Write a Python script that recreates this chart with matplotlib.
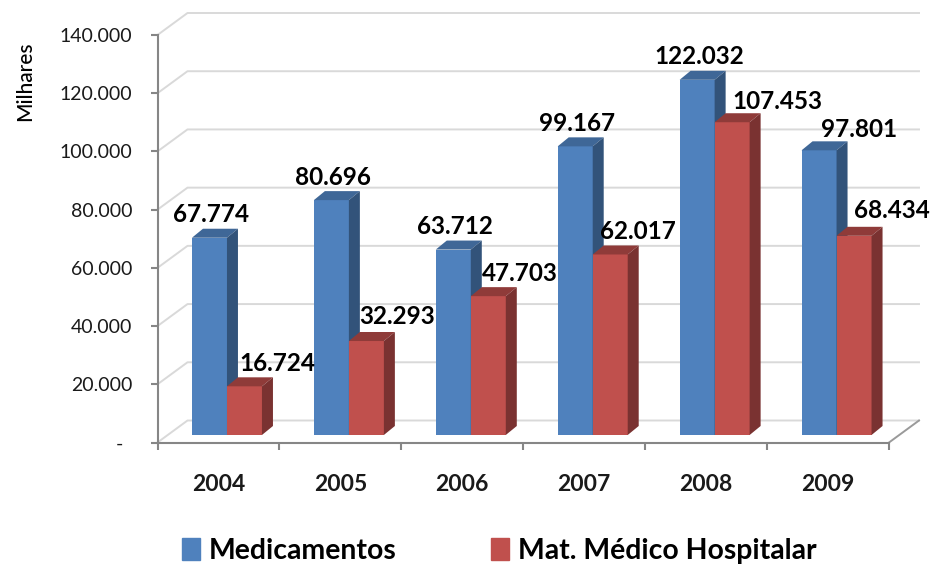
import matplotlib
matplotlib.use("Agg")
import matplotlib.pyplot as plt
from matplotlib.patches import Patch
from matplotlib.transforms import ScaledTranslation
import numpy as np

plt.rcParams['font.family'] = ['Lato', 'DejaVu Sans']

anos = ['2004', '2005', '2006', '2007', '2008', '2009']
medicamentos = [67.774, 80.696, 63.712, 99.167, 122.032, 97.801]
mat_medico = [16.724, 32.293, 47.703, 62.017, 107.453, 68.434]
y_ticks = [0, 20, 40, 60, 80, 100, 120, 140]
y_labels = ['-', '20.000', '40.000', '60.000', '80.000', '100.000', '120.000', '140.000']

# label offsets in pixels from the top centre of each bar
off_med = [(2, 23), (2, 23), (2, 23), (2, 23), (2, 23), (40, 21)]
off_mat = [(33, 23), (31, 25), (32, 23), (28, 23), (45, 21), (38, 25)]

azul, azul_topo, azul_lado = '#4f81bd', '#3f6797', '#32537a'
verm, verm_topo, verm_lado = '#c0504d', '#8f3b39', '#7a3231'

W, H = 932, 566
fig = plt.figure(figsize=(W / 100, H / 100), dpi=100)
ax = fig.add_axes([157.5 / W, (H - 442.5) / H, 731.5 / W, 407.5 / H])
ax.set_xlim(0, 6)
ax.set_ylim(0, 140)

px_x = 6 / 731.5
px_y = 140 / 407.5

# back wall and gridlines
wall_dx, wall_dy = 30 * px_x, 22 * px_y
for v in y_ticks:
    ax.plot([0, wall_dx, 6 + wall_dx], [v, v + wall_dy, v + wall_dy], color='#d9d9d9',
            lw=1.4, clip_on=False, zorder=1)
ax.plot([6, 6 + wall_dx], [0, wall_dy], color='#9a9a9a', lw=1.4, clip_on=False, zorder=1)

# bars
w = 35 * px_x
base = 7.5 * px_y
dep_x, dep_y = 11 * px_x, 9 * px_y
shift = 8.5 * px_x


def bar3d(xs, vals, c, c_top, c_side, z):
    ax.bar(xs, vals, w, bottom=base, color=c, align='edge', zorder=z, clip_on=False)
    for x0, v in zip(xs, vals):
        top = base + v
        ax.fill([x0, x0 + w, x0 + w + dep_x, x0 + dep_x], [top, top, top + dep_y, top + dep_y],
                color=c_top, lw=0, zorder=z, clip_on=False)
        ax.fill([x0 + w, x0 + w + dep_x, x0 + w + dep_x, x0 + w],
                [base, base + dep_y, top + dep_y, top],
                color=c_side, lw=0, zorder=z, clip_on=False)


centros = np.arange(6) + 0.5
x_med = centros + shift - w
x_mat = centros + shift
bar3d(x_med, medicamentos, azul, azul_topo, azul_lado, 3)
bar3d(x_mat, mat_medico, verm, verm_topo, verm_lado, 4)

for xs, vals, offs in [(x_med, medicamentos, off_med), (x_mat, mat_medico, off_mat)]:
    for x0, v, o in zip(xs, vals, offs):
        ax.annotate(f'{v:.3f}', (x0 + w / 2, base + v), xytext=(o[0] * 0.72, o[1] * 0.72),
                    textcoords='offset points', ha='center', va='center', fontsize=17.5,
                    fontweight='bold', color='black', zorder=6, annotation_clip=False)

# axes
for s in ['top', 'right']:
    ax.spines[s].set_visible(False)
for s in ['left', 'bottom']:
    ax.spines[s].set_color('#868686')
    ax.spines[s].set_linewidth(1.5)
ax.patch.set_alpha(0)

ax.set_yticks(y_ticks)
ax.set_yticklabels(y_labels, fontsize=14, color='#1a1a1a')
ax.tick_params(axis='y', length=5, width=1.5, color='#868686', pad=13)
lab0 = ax.get_yticklabels()[0]
lab0.set_transform(lab0.get_transform() + ScaledTranslation(-9 / 100, 0, fig.dpi_scale_trans))

ax.set_xticks(range(7))
ax.set_xticklabels([])
ax.set_xticks(centros, minor=True)
ax.set_xticklabels(anos, minor=True, fontsize=16.5, fontweight='bold', color='#1a1a1a')
ax.tick_params(axis='x', which='major', length=5, width=1.5, color='#868686')
ax.tick_params(axis='x', which='minor', length=0, pad=23)

fig.text(25 / W, 1 - 81 / H, 'Milhares', rotation=90, ha='center', va='center', fontsize=15,
         fontweight='medium', color='black')

# legend
handles = [Patch(color=azul, label='Medicamentos'), Patch(color=verm, label='Mat. Médico Hospitalar')]
fig.legend(handles=handles, ncol=2, loc='lower left', bbox_to_anchor=(182 / W, 2 / H),
           frameon=False, handlelength=0.64, handleheight=0.85, handletextpad=0.3,
           columnspacing=3.35, borderaxespad=0, borderpad=0, prop={'size': 20.4, 'weight': 'bold'})

fig.savefig('out.png', dpi=100)
